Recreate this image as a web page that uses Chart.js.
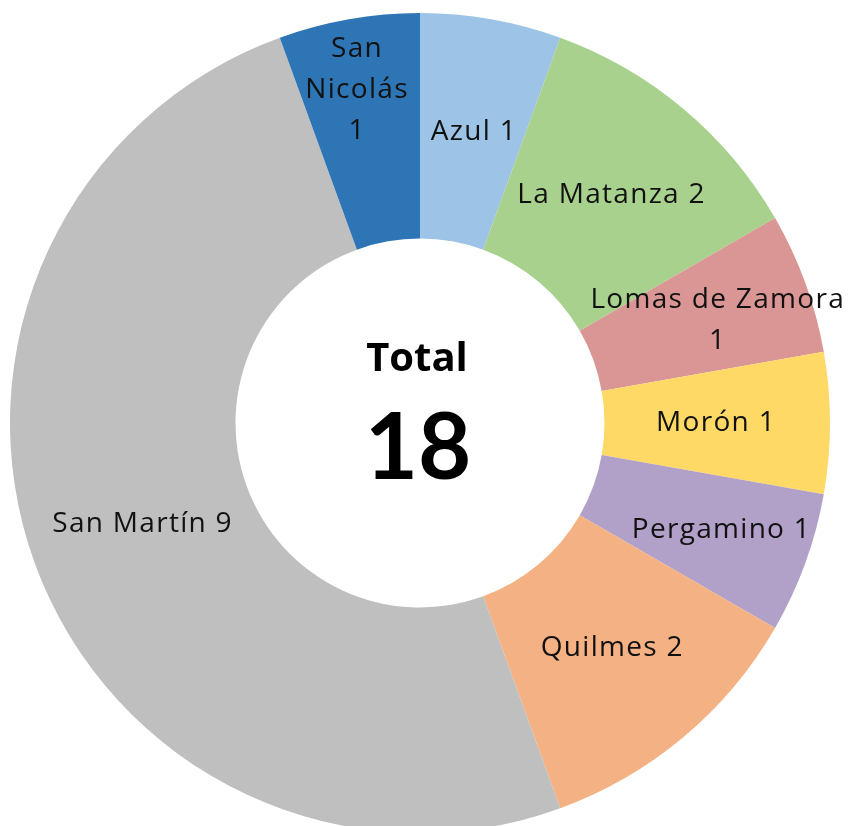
<!DOCTYPE html>
<html>
<head>
<meta charset="utf-8">
<script src="https://cdn.jsdelivr.net/npm/chart.js@4.4.1/dist/chart.umd.min.js"></script>
<style>
  html, body { margin: 0; padding: 0; background: #fff; overflow: hidden; }
  #wrap { position: absolute; left: 0; top: 0; width: 851px; height: 846px; }
</style>
</head>
<body>
<div id="wrap"><canvas id="donut"></canvas></div>
<script>
const categories = ['Azul', 'La Matanza', 'Lomas de Zamora', 'Morón', 'Pergamino', 'Quilmes', 'San Martín', 'San Nicolás'];
const counts = [1, 2, 1, 1, 1, 2, 9, 1];
const colors = ['#9DC3E6', '#A9D18E', '#D99694', '#FFD966', '#B1A0C7', '#F4B183', '#BFBFBF', '#2E75B6'];
// how each label is written (line breaks like the original)
const labelLines = [
  ['Azul 1'], ['La Matanza 2'], ['Lomas de Zamora', '1'], ['Morón 1'],
  ['Pergamino 1'], ['Quilmes 2'], ['San Martín 9'], ['San', 'Nicolás', '1']
];
// label placement: radius fraction of outer radius, angle nudge in degrees
const labelRadius = [0.722, 0.727, 0.768, 0.722, 0.78, 0.722, 0.72, 0.827];
const labelNudge = [0.5, 0, 1, 0, -0.5, -0.5, 0, -0.7];

const total = counts.reduce((a, b) => a + b, 0);

const sliceLabels = {
  id: 'sliceLabels',
  afterDatasetsDraw(chart) {
    const ctx = chart.ctx;
    const meta = chart.getDatasetMeta(0);
    ctx.save();
    ctx.font = '28px "Open Sans"';
    ctx.letterSpacing = '1.3px';
    ctx.fillStyle = '#111';
    ctx.textAlign = 'center';
    ctx.textBaseline = 'middle';
    meta.data.forEach((arc, i) => {
      const p = arc.getProps(['x', 'y', 'startAngle', 'endAngle', 'outerRadius'], true);
      const a = (p.startAngle + p.endAngle) / 2 + labelNudge[i] * Math.PI / 180;
      const r = p.outerRadius * labelRadius[i];
      const cx = p.x + Math.cos(a) * r;
      const cy = p.y + Math.sin(a) * r;
      const lines = labelLines[i];
      const lh = 41;
      lines.forEach((t, k) => {
        ctx.fillText(t, cx, cy + (k - (lines.length - 1) / 2) * lh);
      });
    });
    // centre text
    const c = meta.data[0];
    ctx.letterSpacing = '0px';
    ctx.fillStyle = '#000';
    ctx.font = 'bold 40px "Open Sans"';
    ctx.fillText('Total', c.x - 3, c.y - 63);
    ctx.font = 'bold 92px Lato';
    ctx.fillText(String(total), c.x - 2, c.y + 26);
    ctx.restore();
  }
};

new Chart(document.getElementById('donut'), {
  type: 'doughnut',
  data: {
    labels: categories,
    datasets: [{ data: counts, backgroundColor: colors, borderWidth: 0 }]
  },
  options: {
    responsive: true,
    maintainAspectRatio: false,
    animation: false,
    cutout: '45%',
    layout: { padding: { left: 10, right: 21, top: 13, bottom: 13 } },
    plugins: { legend: { display: false }, tooltip: { enabled: false } }
  },
  plugins: [sliceLabels]
});
</script>
</body>
</html>
